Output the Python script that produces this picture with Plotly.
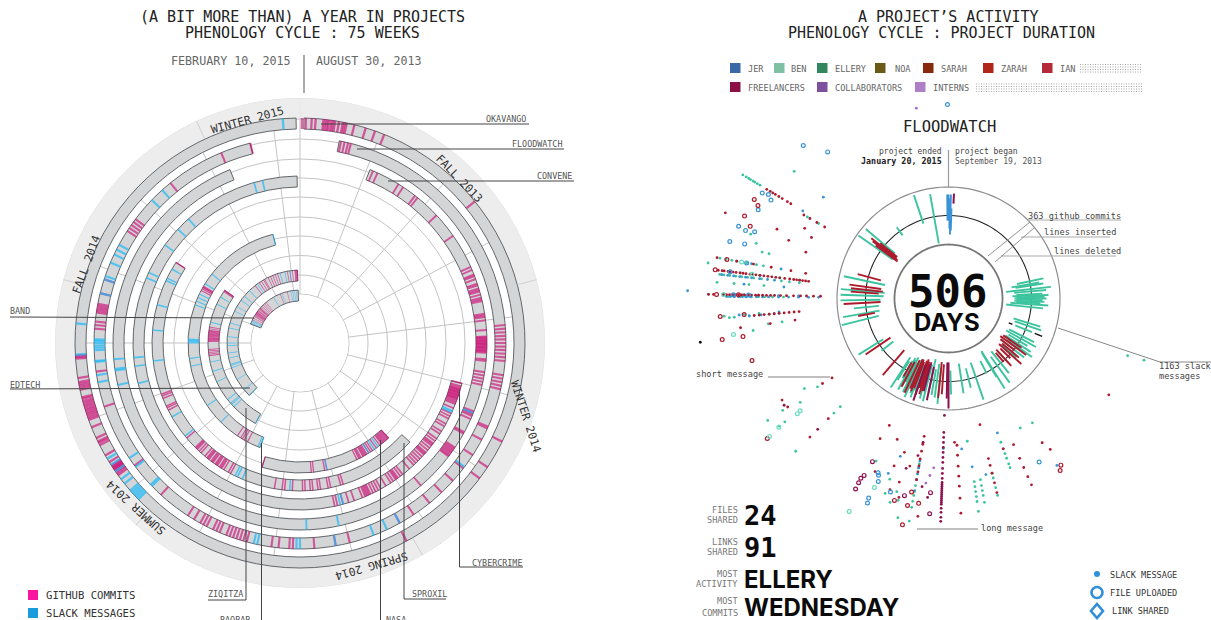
import plotly.graph_objects as go

W, H = 1211, 620

# ---------- LEFT PANEL DATA: radii are in chart units, angles in degrees clockwise from top ----------
projects = ["OKAVANGO", "FLOODWATCH", "CONVENE", "CYBERCRIME", "SPROXIL", "NASA", "BAOBAB", "ZIQITZA", "EDTECH", "BAND"]
track_outer = [225, 206, 187, 167, 148, 130, 112, 92, 73, 53]
track_start = [1, 11, 22, 104, 132, 137, 201, 209, 224, 291]
track_end = [359, 346, 338, 359, 303, 197, 346, 305, 358, 358]
grid_radii = [49, 68, 87.5, 107, 126, 146, 165, 184, 204, 224]
month_spokes = [0, 21, 42, 62, 83, 104, 125, 145, 166, 187, 208, 229, 250, 270, 291, 312, 333, 353]
season_edges = [335, 75, 150, 222, 285]

commits = {
    "OKAVANGO": [0.5, 1.5, 3, 4, 6, 6.5, 7, 7.4, 8, 8.5, 9, 10, 11, 11.5, 12, 14, 17, 19.5, 22, 51, 116, 123.5, 127, 151.7,
                 234, 234.5, 235, 235.4, 235.8, 236, 236.3, 236.6, 237, 238, 240, 243, 243.6, 244, 245, 248, 250, 250.5, 251, 251.5, 252, 252.5, 253, 253.5, 254, 254.5, 255, 255.6, 256,
                 258, 258.5, 259, 259.5, 260, 261, 266, 266.4, 266.8],
    "FLOODWATCH": [11.5, 12.5, 13.5, 14.3, 85, 86, 87, 88, 89, 90, 91, 92, 93, 94, 95, 99, 100, 101, 102, 103, 114, 114.5, 118, 123, 127.5, 132, 136.5, 141, 146.5, 151, 166, 170, 176,
                   182, 183, 186, 188, 195, 196, 197, 198, 199, 200, 201, 203, 204, 205, 207, 208, 209, 211, 213, 222.5, 233.5, 252, 262, 274, 275, 276, 278.5, 279, 279.5, 280, 280.5, 281, 284, 288, 303, 304, 305, 306, 307, 321, 337.5, 346],
    "CONVENE": [23, 24.5, 31.8, 33.5, 38, 39, 46.9, 55, 66, 67, 68.5, 69, 70, 71.5, 72, 73, 73.5, 74, 75, 76, 76.5, 77, 81, 81.5, 82, 83, 86,
                88, 88.3, 88.6, 89, 89.3, 89.6, 90, 90.3, 90.6, 91, 91.3, 91.6, 92, 92.3, 92.6, 93, 95, 95.5, 99, 100, 101, 102, 103, 111.5, 112, 112.5, 113, 114, 118.5, 119, 124, 124.5, 125, 125.5, 126, 126.5, 127, 127.4, 139.7],
    "CYBERCRIME": [104, 105, 105.5, 106, 106.3, 106.6, 107, 107.3, 107.6, 108, 108.3, 108.6, 109, 109.3, 109.6, 110, 110.5, 111, 111.5, 113, 115, 116, 117, 119, 120, 122, 123, 125, 126, 127, 127.5, 128, 129, 130, 131, 131.5, 132, 133, 134, 135, 136, 137, 139, 142, 143, 144, 144.5, 145, 146, 147, 149, 151, 152, 153, 154, 155, 155.5, 156, 156.5, 157, 158, 161, 163, 165, 167, 168],
    "SPROXIL": [163, 164, 168, 169, 172, 173, 175, 176, 178, 179, 183, 186, 187, 190, 208, 209, 211, 212, 212.5, 213, 214, 214.5, 215, 216, 216.5, 217, 218, 218.5, 219, 220, 222, 223, 224, 224.5, 225, 230, 243, 244, 244.7, 248, 249, 249.7, 303],
    "NASA": [137, 137.5, 138, 138.5, 139, 139.5, 140, 140.5, 141, 142, 144, 146, 147, 148, 149, 149.5, 150, 150.5, 151, 152, 152.5, 153, 154, 168, 169, 174, 175, 197],
    "BAOBAB": [208, 210, 211, 212, 214, 298, 299, 299.7, 300, 300.5],
    "ZIQITZA": [262, 263, 264, 265, 266, 271, 271.5, 272, 272.5, 273, 273.5, 274, 274.5, 275, 275.5, 276, 276.5, 277, 277.5, 278, 279, 280, 304, 304.5, 305],
    "EDTECH": [322, 326, 328, 330, 331, 334, 336, 338, 340, 342, 350, 352, 354, 356, 356.5, 357, 357.5, 358],
    "BAND": [296, 298, 300, 301, 302, 302.5, 303, 303.5, 304, 304.5, 305, 305.5, 306, 307, 307.5, 308, 309, 310, 310.5, 311, 312, 314, 316, 318, 320, 338, 346],
}
slacks = {
    "OKAVANGO": [275, 355.6, 267, 239, 237.2, 235.2, 232.7, 231.3, 229, 228.4, 227.8, 227.2, 226.6, 226],
    "FLOODWATCH": [314, 318, 298.5, 297, 295.5, 293, 289, 288, 284, 268, 268.7, 269.3, 270, 270.6, 271, 265, 264.7, 261, 259, 236, 233, 226.5, 226, 193, 192, 181, 180, 170, 159, 155, 151, 127],
    "CONVENE": [178, 168, 112, 262, 261.5, 265, 257],
    "CYBERCRIME": [166, 165, 114, 114.5, 256, 262, 265, 293, 295, 306, 313, 318, 344, 347],
    "SPROXIL": [184, 203, 205, 206, 231, 240, 263, 275, 285, 295, 296, 300],
    "NASA": [143, 145, 148, 168],
    "BAOBAB": [201, 202, 225, 236, 258, 262, 270, 270.5, 271, 271.5, 272, 290, 292, 294, 296, 302, 308, 346],
    "ZIQITZA": [209, 226, 228, 229, 232, 245, 252, 258, 283, 295, 300],
    "EDTECH": [224, 230, 240, 250, 252, 253, 258, 262, 268, 270, 275, 282, 286, 296, 300, 306, 310, 316, 324, 344, 348, 352],
    "BAND": [292, 293, 294, 295, 330, 340, 350, 352, 354, 356],
}

# ---------- RIGHT PANEL DATA ----------
ben_theta = [-18.5, -10, -36, -50, -55, -78, -85, -88, -91, -96, -100, -104, 238, 232,
             78, 80, 81, 83.5, 85, 87, 88, 89, 90, 91, 92, 93, 94, 96,
             107, 109, 112, 117, 119, 121, 123, 125, 128, 131, 137, 141, 144, 148, 148.5, 153, 160.9, 166, 171, 178.5,
             186, 188, 190, 192, 194, 196, 198, 199, 200, 201, 202, 203, 204, 205, 206, 207, 208, 209, 210, 212, 213]
ben_in = [79, 56, 78, 70, 68, 65, 64, 65, 68, 70, 70, 72, 77, 70,
          70, 64, 68, 58, 66, 68, 64, 68, 66, 68, 66, 68, 62, 58,
          68, 70, 72, 68, 66, 70, 68, 72, 66, 70, 72, 68, 72, 62, 64, 70, 68, 72, 66, 72,
          70, 66, 72, 62, 68, 70, 66, 68, 72, 70, 74, 66, 68, 70, 72, 66, 70, 68, 72, 74, 70]
ben_out = [109, 106, 88, 108, 110, 107, 108, 108, 108, 95, 107, 110, 106, 85,
           97, 92, 96, 103, 98, 94, 100, 96, 98, 94, 96, 92, 100, 95,
           96, 98, 90, 96, 100, 92, 98, 102, 96, 90, 88, 96, 104, 106, 92, 84, 107, 92, 96, 96,
           106, 100, 98, 96, 106, 104, 94, 100, 98, 106, 102, 96, 108, 100, 104, 94, 98, 104, 92, 96, 106]
red_theta = [-52, -53, -54, -51, -75, -82, -84, -86, -93, -101, 236, 220.6, 210, 208, 205, 203, 202, 201, 199, 198, 197, 196, 186, 184, 139, 137, 134, 132, 130, 128, 126, 124]
red_in = [66, 64, 63, 66, 70, 68, 66, 70, 68, 75, 70, 68, 74, 72, 68, 66, 66, 68, 66, 64, 66, 68, 64, 66, 72, 70, 72, 68, 70, 66, 64, 66]
red_out = [98, 95, 90, 88, 94, 100, 98, 98, 105, 92, 100, 101, 90, 100, 104, 98, 100, 96, 102, 94, 100, 96, 100, 96, 84, 92, 86, 98, 92, 84, 96, 88]
jer_theta = [0, 1.3, 0.7, -0.7, 1.9]
jer_in = [78, 64, 70, 78, 68]
jer_out = [104, 104, 100, 104, 90]
fre_theta = [180, 181, 199, 195, 192, 3]
fre_in = [64, 64, 70, 66, 70, 95]
fre_out = [110, 100, 108, 96, 104, 105]
black_theta = [112, 112]
black_in = [65, 93]
black_out = [69, 101]

slack_ben_theta = [301, 301, 301, 301, 301, 301, 301, 301, 300, 300, 309.5, 278.4, 280, 280, 280, 280, 280, 280, 277, 277, 277, 277, 274, 274, 274, 274, 271, 271, 271, 265.5, 265.5, 265.5, 260.7, 262, 262,
                   236, 235, 238, 236, 236, 225, 225, 225, 233, 233, 107.7, 107.5, 146, 160, 160, 160, 160, 160, 160, 166, 166, 166, 166, 170, 170, 170, 170, 170, 172.5, 172, 172, 172, 172, 172, 172, 190, 190, 190, 190, 190, 190, 190, 190, 190, 190, 151, 198, 198, 196, 195, 194, 193, 204,
                   276, 276, 276, 276, 276, 276, 276, 276, 276, 276, 276, 270.5, 270.5, 270.5, 270.5, 270.5, 270.5, 270.5, 270.5, 270.5, 265, 265, 265, 265, 265, 265, 288, 286, 284, 284]
slack_ben_r = [240, 236, 233, 231, 228, 226, 223, 220, 163, 150, 200, 243, 232, 226, 220, 205, 195, 188, 222, 210, 190, 170, 232, 215, 200, 185, 240, 225, 205, 225, 205, 190, 198, 182, 168,
               158, 181, 170, 200, 218, 153, 162, 216, 205, 212, 188, 205, 150, 153, 160, 165, 170, 176, 180, 180, 185, 195, 203, 184, 190, 195, 200, 207, 144, 185, 190, 195, 200, 205, 215, 168, 172, 178, 184, 190, 196, 200, 206, 212, 226, 148, 190, 205, 212, 200, 208, 225, 178,
               230, 226, 220, 214, 208, 202, 196, 188, 168, 160, 150, 220, 215, 208, 203, 197, 190, 184, 176, 165, 220, 215, 200, 190, 180, 170, 208, 200, 192, 185]
slack_jer_theta = [309, 301, 280, 280, 280, 277, 277, 274, 274, 271, 271, 271, 271, 271, 271, 265.5, 265.5, 271.7, 271.7, 160, 175, 172, 147, 190, 190, 190, 190, 190, 199, 197, 182, 168,
                   276, 276, 276, 276, 276, 276, 276, 276, 276, 270.5, 270.5, 270.5, 270.5, 270.5, 270.5, 270.5, 270.5, 270.5, 270.5, 270.5, 270.5, 270.5, 270.5, 270.5, 265, 265, 265]
slack_jer_r = [161, 170, 215, 200, 170, 190, 150, 205, 165, 225, 215, 205, 190, 170, 150, 210, 170, 273, 261, 143, 151, 170, 199, 165, 172, 178, 184, 195, 185, 165, 150, 180,
               228, 222, 216, 210, 204, 198, 190, 182, 175, 222, 218, 214, 210, 206, 202, 198, 192, 186, 180, 170, 160, 150, 140, 130, 200, 188, 175]
slack_red_theta = [291, 301, 301, 301, 301, 301, 301, 301, 301, 300, 300, 300, 300, 296, 294, 292, 290, 288, 280, 280, 280, 280, 280, 280, 262, 262, 262, 236, 235.7, 238.6, 236, 225, 225, 121,
                   190, 190, 190, 190, 190, 190, 190, 176.7, 176.7, 176.7, 176.7, 176.7, 176.7, 176.7, 166, 166, 166, 166, 166, 156, 156, 156, 156, 156, 160, 166, 177.6, 147, 146, 200, 198, 196, 195, 194, 193, 205, 206, 203, 188, 197]
slack_red_r = [239, 212, 208, 205, 202, 198, 194, 188, 184, 167, 160, 152, 143, 160, 150, 185, 170, 150, 235, 215, 198, 180, 160, 145, 210, 180, 155, 152, 141, 195, 194, 170, 196, 187,
               140, 148, 155, 163, 170, 176, 184, 147, 157, 168, 178, 188, 200, 215, 165, 172, 180, 190, 200, 160, 175, 185, 204, 195, 160, 130, 144, 172, 182, 150, 176, 160, 190, 205, 172, 140, 156, 188, 220, 200]
row_a_theta = [277] * 27
row_a_r = [232, 228, 226, 222, 220, 217, 214, 210, 207, 204, 200, 197, 194, 190, 186, 182, 178, 174, 170, 165, 160, 156, 153, 150, 147, 144, 141]
row_b_theta = [271] * 25
row_b_r = [225, 222, 219, 216, 213, 210, 207, 204, 200, 197, 193, 190, 186, 182, 178, 174, 168, 162, 155, 148, 142, 135, 128, 240, 235]
row_c_theta = [265] * 10
row_c_r = [195, 190, 185, 180, 175, 170, 165, 160, 155, 150]
slack_fre_theta = [182, 182, 182, 182, 182, 182, 182, 182, 182, 182, 182, 182, 182, 182, 182, 182, 182, 182, 182, 182, 182, 182, 182, 182, 182, 182, 182, 225, 237, 190, 191, 194, 188, 186]
slack_fre_r = [134, 139, 144, 149, 154, 159, 164, 170, 175, 180, 184, 186, 188, 190, 192, 194, 196, 198, 200, 202, 204, 206, 210, 214, 219, 223, 117, 185, 196, 146, 160, 175, 190, 200]
slack_black_theta = [260]
slack_black_r = [252]
slack_int_theta = [350.4, 185, 186, 187]
slack_int_r = [193, 170, 178, 186]

file_jer_theta = [316.5, 320.5, 359.7, 300, 299.5, 299, 295, 289, 288.5, 289, 284.6, 285, 280, 277, 271, 271, 151, 201.6, 201, 202, 201.8, 201.6, 196.7]
file_jer_r = [211, 190, 194, 208, 214, 203, 210, 222, 214, 205, 226, 211, 205, 220, 215, 200, 187, 190, 196, 188, 215, 220, 202]
file_red_theta = [297, 296, 292, 290, 280, 277, 271, 271, 265.5, 265.5, 259.5, 259.7, 252.5, 232.3, 195, 190.8, 191.2, 188.3, 191.5, 146, 147]
file_red_r = [218, 212, 220, 211, 225, 235, 232, 210, 229, 205, 209, 230, 206, 229, 209, 197, 211, 207, 231, 201, 205]
file_ben_theta = [280, 277, 271, 260.5, 232.9, 232.7, 232.8, 232.4, 205, 211.4, 201.4]
file_ben_r = [210, 198, 225, 218, 186, 190, 213, 226, 235, 265, 203]
file_fre_theta = [206, 206, 206, 205.5, 205, 192.6, 185.3, 185]
file_fre_r = [200, 212, 205, 196, 180, 202, 195, 216]

legend_names = ["JER", "BEN", "ELLERY", "NOA", "SARAH", "ZARAH", "IAN", "FREELANCERS", "COLLABORATORS", "INTERNS"]
legend_colors = ["#3b68a6", "#7fbfa4", "#33875e", "#6b5a17", "#872a0e", "#ae2718", "#b52a3a", "#8a1046", "#7e519f", "#ad7fc6"]
legend_x = [730, 774, 817, 875, 923, 983, 1042, 730, 817, 915]
legend_text_x = [748, 791, 835, 895, 941, 1001, 1060, 748, 835, 933]
legend_y = [69, 69, 69, 69, 69, 69, 69, 88, 88, 88]

stat_labels = [["FILES", "SHARED"], ["LINKS", "SHARED"], ["MOST", "ACTIVITY"], ["MOST", "COMMITS"]]
stat_values = ["24", "91", "ELLERY", "WEDNESDAY"]

# ---------- colours and helpers ----------
MONO = "DejaVu Sans Mono, monospace"
SANS = "Inter, Roboto, Liberation Sans, sans-serif"
BEN, RED, JER, FRE = "#3cc49e", "#ad1a2c", "#3a93d6", "#8d1150"

LC = dict(cx=300, cy=343, R=245)
RC = dict(cx=948.5, cy=298.5, R=262)


def px(x):
    return x / W


def py(y):
    return 1 - y / H


def dom(c):
    return dict(x=[px(c["cx"] - c["R"]), px(c["cx"] + c["R"])],
                y=[py(c["cy"] + c["R"]), py(c["cy"] - c["R"])])


fig = go.Figure()


# left panel
def bars(theta, base, width_r, width_t, color, line=None):
    fig.add_trace(go.Barpolar(theta=theta, r=[width_r] * len(theta), base=[base] * len(theta),
                              width=width_t, marker=dict(color=color, line=line or dict(width=0)),
                              subplot="polar", hoverinfo="skip", showlegend=False))


bars([180], 225, 20, [359.9], "#ededed")
bars([180], 0, 48.5, [359.9], "#ffffff")
for name, out, s, e in zip(projects, track_outer, track_start, track_end):
    bars([(s + e) / 2], out - 11, 11, [e - s], "#d3d5d6", dict(color="#55575a", width=0.9))
for name, out in zip(projects, track_outer):
    bars(commits[name], out - 11, 11, [0.6] * len(commits[name]), "rgba(205,8,115,0.62)")
    bars(slacks[name], out - 11, 11, [0.6] * len(slacks[name]), "rgba(25,185,250,0.7)")

for a in season_edges:
    fig.add_trace(go.Scatterpolar(theta=[a, a], r=[225, 245], mode="lines", line=dict(color="#c8c8c8", width=0.8),
                                  subplot="polar", hoverinfo="skip", showlegend=False))
fig.add_trace(go.Scatterpolar(theta=list(range(0, 361, 2)), r=[245] * 181, mode="lines", line=dict(color="#dcdcdc", width=0.8),
                              subplot="polar", hoverinfo="skip", showlegend=False))


# right panel
def spokes(theta, r0, r1, color, width=1.8):
    t, r = [], []
    for a, i, o in zip(theta, r0, r1):
        t += [a, a, None]
        r += [i, o, None]
    fig.add_trace(go.Scatterpolar(theta=t, r=r, mode="lines", line=dict(color=color, width=width),
                                  subplot="polar2", hoverinfo="skip", showlegend=False))


def circle(radius, color, width):
    fig.add_trace(go.Scatterpolar(theta=list(range(0, 361, 2)), r=[radius] * 181, mode="lines",
                                  line=dict(color=color, width=width), subplot="polar2", hoverinfo="skip", showlegend=False))


circle(111.5, "#8c8c8c", 1.2)
circle(83, "#222222", 1.1)
circle(54, "#777777", 1.8)
spokes(black_theta, black_in, black_out, "#111111", 1.5)
spokes(ben_theta, ben_in, ben_out, BEN, 1.9)
spokes(red_theta, red_in, red_out, RED, 1.9)
spokes(jer_theta, jer_in, jer_out, JER, 1.9)
spokes(fre_theta, fre_in, fre_out, FRE, 2)


def dots(theta, r, color, size=2.8, symbol="circle", lw=0):
    fig.add_trace(go.Scatterpolar(theta=theta, r=r, mode="markers", cliponaxis=False,
                                  marker=dict(color=color, size=size, symbol=symbol, line=dict(width=lw, color=color)),
                                  subplot="polar2", hoverinfo="skip", showlegend=False))


dots(slack_ben_theta, slack_ben_r, BEN)
dots(slack_jer_theta, slack_jer_r, JER)
dots(slack_red_theta, slack_red_r, RED)
dots(row_a_theta, row_a_r, RED)
dots(row_b_theta, row_b_r, RED)
dots(row_c_theta, row_c_r, RED)
dots(slack_fre_theta, slack_fre_r, FRE)
dots(slack_black_theta, slack_black_r, "#111111")
dots(slack_int_theta, slack_int_r, "#a66cc6")
dots(file_jer_theta, file_jer_r, JER, 3.8, "circle-open", 1.2)
dots(file_red_theta, file_red_r, RED, 3.8, "circle-open", 1.2)
dots(file_ben_theta, file_ben_r, "#66dcc0", 3.8, "circle-open", 1.2)
dots(file_fre_theta, file_fre_r, FRE, 3.8, "circle-open", 1.2)

shapes, ann = [], []


def line(x0, y0, x1, y1, color="#444444", width=1, dash=None):
    shapes.append(dict(type="line", xref="paper", yref="paper", x0=px(x0), y0=py(y0), x1=px(x1), y1=py(y1),
                       line=dict(color=color, width=width, dash=dash)))


def text(x, y, s, size=9, color="#555555", font=MONO, anchor="left", angle=0):
    ann.append(dict(xref="paper", yref="paper", x=px(x), y=py(y), text=s, showarrow=False, xanchor=anchor, yanchor="middle",
                    textangle=angle, font=dict(size=size, color=color, family=font), borderpad=0, borderwidth=0))


# titles
text(302, 17, "(A BIT MORE THAN) A YEAR IN PROJECTS", 15, "#222222", anchor="center")
text(302, 33, "PHENOLOGY CYCLE : 75 WEEKS", 15, "#222222", anchor="center")
text(291, 61, "FEBRUARY 10, 2015", 11.7, "#666666", anchor="right")
text(316, 61, "AUGUST 30, 2013", 11.7, "#666666")
line(304, 55, 304, 93, "#555555", 1)

# season labels
text(247, 120, "WINTER 2015", 11.3, "#333333", anchor="center", angle=-15)
text(459, 178, "FALL 2013", 11.3, "#333333", anchor="center", angle=46)
text(526, 416, "WINTER 2014", 11.3, "#333333", anchor="center", angle=72)
text(372, 566, "SPRING 2014", 11.3, "#333333", anchor="center", angle=164)
text(136, 508, "SUMMER 2014", 11.3, "#333333", anchor="center", angle=-138)
text(86, 265, "FALL 2014", 11.3, "#333333", anchor="center", angle=-70)

# project leaders
LL = "#444444"
line(321, 124, 529, 124, LL)
line(357, 149, 564, 149, LL)
line(388, 181, 574, 181, LL)
line(10, 317, 254, 318, LL)
line(10, 389, 250, 388, LL)
line(246, 408, 246, 600, LL)
line(208, 600, 246, 600, LL)
line(261.5, 443, 261.5, 620, LL)
line(380.5, 440, 380.5, 620, LL)
line(404, 443, 404, 599, LL)
line(404, 599, 446, 599, LL)
line(459.5, 390, 459.5, 567, LL)
line(459.5, 567, 523, 567, LL)
S = 8.4
text(526, 119, "OKAVANGO", S, anchor="right")
text(562, 144, "FLOODWATCH", S, anchor="right")
text(572, 176, "CONVENE", S, anchor="right")
text(10, 311, "BAND", S)
text(10, 385, "EDTECH", S)
text(208, 594, "ZIQITZA", S)
text(220, 620, "BAOBAB", S)
text(386, 620, "NASA", S)
text(412, 594, "SPROXIL", S)
text(472, 563, "CYBERCRIME", S)

# left legend
shapes.append(dict(type="rect", xref="paper", yref="paper", x0=px(28), x1=px(38), y0=py(590), y1=py(600), fillcolor="#fb16a0", line=dict(width=0)))
shapes.append(dict(type="rect", xref="paper", yref="paper", x0=px(28), x1=px(38), y0=py(608), y1=py(618), fillcolor="#199cdc", line=dict(width=0)))
text(46, 595, "GITHUB COMMITS", 10.6, "#333333")
text(46, 613, "SLACK MESSAGES", 10.6, "#333333")

# right titles
text(948, 17, "A PROJECT’S ACTIVITY", 15, "#222222", anchor="center")
text(941, 33, "PHENOLOGY CYCLE : PROJECT DURATION", 15, "#222222", anchor="center")
text(949, 127, "FLOODWATCH", 15.5, "#222222", anchor="center")

# right legend
for nm, col, lx, tx, ly in zip(legend_names, legend_colors, legend_x, legend_text_x, legend_y):
    shapes.append(dict(type="rect", xref="paper", yref="paper", x0=px(lx), x1=px(lx + 10.5), y0=py(ly - 6), y1=py(ly + 4), fillcolor=col, line=dict(width=0)))
    text(tx, ly, nm, 8.6, "#666666")
for yy in (64.5, 67, 69.5, 72):
    line(1080, yy, 1142, yy, "#a8a8a8", 1.1, "1px,1.5px")
for yy in (84, 86.5, 89, 91.5):
    line(976, yy, 1142, yy, "#a8a8a8", 1.1, "1px,1.5px")

# dates
text(942, 152, "project ended", 8, "#444444", anchor="right")
text(942, 161, "<b>January 20, 2015</b>", 8.4, "#222222", anchor="right")
text(955, 152, "project began", 8, "#444444")
text(955, 161, "September 19, 2013", 8, "#555555")
line(948.5, 150, 948.5, 187, "#9a9a9a", 1.2)

# centre
text(947, 291, "<b>506</b>", 44, "#0b0b0b", font=MONO, anchor="center")
text(947, 322, "<b>DAYS</b>", 24, "#0b0b0b", font=SANS, anchor="center")

# annotations right
line(1028, 220, 1121, 220, "#aaaaaa", 1.2)
line(1021, 237, 1110, 237, "#aaaaaa", 1.2)
line(1001, 256, 1116, 256, "#aaaaaa", 1.2)
line(1030, 222, 988, 256, "#888888", 0.9)
line(1034, 228, 995, 262, "#888888", 0.9)
text(1028, 216, "363 github commits", 8.6, "#444444")
text(1044, 232, "lines inserted", 8.6, "#444444")
text(1054, 251, "lines deleted", 8.6, "#444444")
line(1058, 328, 1160, 362, "#888888", 1)
line(1160, 362, 1211, 362, "#888888", 1)
text(1159, 366, "1163 slack", 8.6, "#444444")
text(1159, 376, "messages", 8.6, "#444444")
text(696, 374, "short message", 8.6, "#444444")
line(768, 377, 830, 377, "#aaaaaa", 1.5)
text(981, 528, "long message", 8.6, "#444444")
line(917, 529, 978, 529, "#aaaaaa", 1.5)

# bottom stats
stat_y = [515, 547, 579, 607]
for lab, val, y, big in zip(stat_labels, stat_values, stat_y, [27, 27, 24, 24]):
    dy = 5 if y < 600 else 6
    text(738, y - dy, lab[0], 8.6, "#777777", anchor="right")
    text(738, y + dy, lab[1], 8.6, "#777777", anchor="right")
    fnt = MONO if val.isdigit() else SANS
    text(744, y, f"<b>{val}</b>", big, "#0b0b0b", font=fnt)

# right legend bottom
text(1110, 575, "SLACK MESSAGE", 8.6, "#333333")
text(1110, 593, "FILE UPLOADED", 8.6, "#333333")
text(1112, 611, "LINK SHARED", 8.6, "#333333")
shapes.append(dict(type="circle", xref="paper", yref="paper", x0=px(1094), x1=px(1100), y0=py(577), y1=py(571), fillcolor="#2f8fd8", line=dict(width=0)))
shapes.append(dict(type="circle", xref="paper", yref="paper", x0=px(1091.5), x1=px(1102.5), y0=py(598), y1=py(587), fillcolor="rgba(0,0,0,0)", line=dict(width=2.6, color="#2f8fd8")))
shapes.append(dict(type="path", xref="paper", yref="paper",
                   path=f"M {px(1097)} {py(604)} L {px(1103)} {py(611)} L {px(1097)} {py(618)} L {px(1091)} {py(611)} Z",
                   fillcolor="rgba(0,0,0,0)", line=dict(width=2.6, color="#2f8fd8")))

fig.update_layout(
    width=W, height=H, margin=dict(l=0, r=0, t=0, b=0), paper_bgcolor="white", plot_bgcolor="white",
    showlegend=False, shapes=shapes, annotations=ann,
    polar=dict(domain=dom(LC), bgcolor="rgba(0,0,0,0)", barmode="overlay",
               angularaxis=dict(direction="clockwise", rotation=90, thetaunit="degrees", tickvals=month_spokes,
                                showticklabels=False, ticks="", gridcolor="#c4c4c4", gridwidth=0.9, showline=False),
               radialaxis=dict(range=[0, LC["R"]], tickvals=grid_radii, showticklabels=False, ticks="",
                               gridcolor="#c4c4c4", gridwidth=0.9, showline=False)),
    polar2=dict(domain=dom(RC), bgcolor="rgba(0,0,0,0)",
                angularaxis=dict(direction="clockwise", rotation=90, thetaunit="degrees", showticklabels=False,
                                 ticks="", showgrid=False, showline=False),
                radialaxis=dict(range=[0, RC["R"]], showticklabels=False, ticks="", showgrid=False, showline=False)),
)

fig.write_html("out.html", config=dict(displayModeBar=False),
               post_script="document.body.style.margin='0';document.body.style.overflow='hidden';")
